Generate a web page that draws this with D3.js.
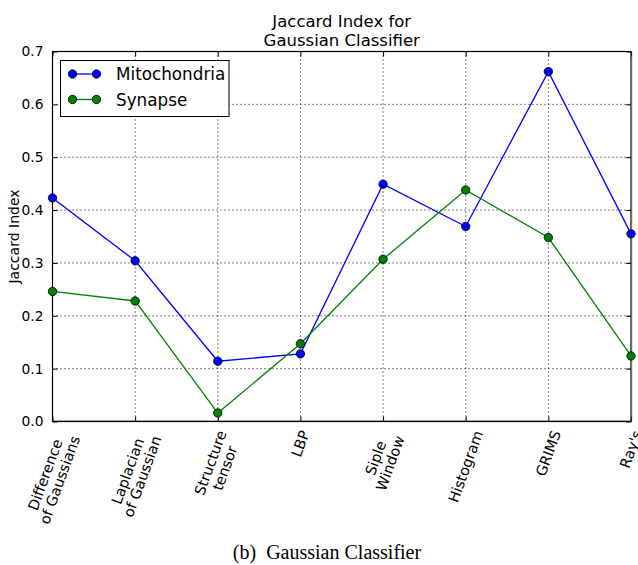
<!DOCTYPE html>
<html>
<head>
<meta charset="utf-8">
<script src="https://cdn.jsdelivr.net/npm/d3@7"></script>
<style>
  html, body { margin: 0; padding: 0; background: #fff; }
  svg { display: block; }
  text { font-family: "DejaVu Sans", sans-serif; fill: #000; }
</style>
</head>
<body>
<svg id="chart" width="638" height="565"></svg>
<script>
// Feature extractors evaluated with the Gaussian classifier
const categories = [
  "Difference\nof Gaussians",
  "Laplacian\nof Gaussian",
  "Structure\ntensor",
  "LBP",
  "Siple\nWindow",
  "Histogram",
  "GRIMS",
  "Ray's"
];
const mitochondria = [0.423, 0.304, 0.114, 0.128, 0.449, 0.369, 0.662, 0.355];
const synapse      = [0.246, 0.228, 0.016, 0.147, 0.307, 0.438, 0.348, 0.124];
const yTicks = [0.0, 0.1, 0.2, 0.3, 0.4, 0.5, 0.6, 0.7];

const series = [
  { name: "Mitochondria", values: mitochondria, color: "#0000ff" },
  { name: "Synapse",      values: synapse,      color: "#008000" }
];

const svg = d3.select("#chart");
const plot = { left: 52.5, right: 631, top: 51.5, bottom: 421.5 };

const x = d3.scalePoint()
  .domain(d3.range(categories.length))
  .range([plot.left, plot.right]);
const y = d3.scaleLinear()
  .domain([0, 0.7])
  .range([plot.bottom, plot.top]);

// Dotted grid
const grid = svg.append("g");
grid.selectAll("line.gx")
  .data(d3.range(categories.length).slice(1, -1))
  .join("line")
  .attr("x1", d => x(d)).attr("x2", d => x(d))
  .attr("y1", plot.top).attr("y2", plot.bottom)
  .attr("stroke", "#000").attr("stroke-width", 1)
  .attr("stroke-dasharray", "1,3");
grid.selectAll("line.gy")
  .data(yTicks.slice(1, -1))
  .join("line")
  .attr("x1", plot.left).attr("x2", plot.right)
  .attr("y1", d => y(d)).attr("y2", d => y(d))
  .attr("stroke", "#000").attr("stroke-width", 1)
  .attr("stroke-dasharray", "1,3");

// Axes with inward ticks on all four sides
const tickLen = 5;
const axisLeft = svg.append("g").attr("transform", `translate(${plot.left},0)`)
  .call(d3.axisLeft(y).tickValues(yTicks).tickFormat(d3.format(".1f"))
    .tickSizeInner(-tickLen).tickSizeOuter(0).tickPadding(tickLen + 4));
const axisRight = svg.append("g").attr("transform", `translate(${plot.right},0)`)
  .call(d3.axisRight(y).tickValues(yTicks).tickFormat("")
    .tickSizeInner(-tickLen).tickSizeOuter(0));
const axisBottom = svg.append("g").attr("transform", `translate(0,${plot.bottom})`)
  .call(d3.axisBottom(x).tickFormat("").tickSizeInner(-tickLen).tickSizeOuter(0));
const axisTop = svg.append("g").attr("transform", `translate(0,${plot.top})`)
  .call(d3.axisTop(x).tickFormat("").tickSizeInner(-tickLen).tickSizeOuter(0));

[axisLeft, axisRight, axisBottom, axisTop].forEach(a => {
  a.select(".domain").remove();
  a.selectAll(".tick line").attr("stroke", "#000").attr("stroke-width", 1);
});
axisLeft.selectAll(".tick text")
  .style("font-family", "DejaVu Sans").style("font-size", "13.8px").attr("fill", "#000");

// Frame
svg.append("rect")
  .attr("x", plot.left).attr("y", plot.top)
  .attr("width", plot.right - plot.left).attr("height", plot.bottom - plot.top)
  .attr("fill", "none").attr("stroke", "#000").attr("stroke-width", 1.2);
// Heavier, textured bottom and right edges
svg.append("line")
  .attr("x1", plot.left).attr("x2", plot.right)
  .attr("y1", plot.bottom - 1).attr("y2", plot.bottom - 1)
  .attr("stroke", "#666").attr("stroke-width", 1).attr("stroke-dasharray", "1,1");
svg.append("line")
  .attr("x1", plot.right + 1).attr("x2", plot.right + 1)
  .attr("y1", plot.top).attr("y2", plot.bottom)
  .attr("stroke", "#888").attr("stroke-width", 1).attr("stroke-dasharray", "1,1");

// Rotated category labels, bounding box centred under each tick
const angle = 70, rad = angle * Math.PI / 180, lh = 15.5;
const labels = svg.append("g");
categories.forEach((c, i) => {
  const lines = c.split("\n");
  const g = labels.append("g");
  const t = g.append("text")
    .attr("text-anchor", "middle")
    .attr("dominant-baseline", "central")
    .style("font-size", "14.5px");
  lines.forEach((ln, j) => {
    t.append("tspan").attr("x", 0)
      .attr("y", (j - (lines.length - 1) / 2) * lh)
      .text(ln);
  });
  const w = d3.max(t.selectAll("tspan").nodes(), n => n.getComputedTextLength());
  const h = lines.length * lh;
  const bboxH = w * Math.sin(rad) + h * Math.cos(rad);
  g.attr("transform", `translate(${x(i)},${plot.bottom + 7 + bboxH / 2}) rotate(${-angle})`);
});

// Series lines and markers
const line = d3.line().x((d, i) => x(i)).y(d => y(d));
series.forEach(s => {
  svg.append("path")
    .datum(s.values)
    .attr("d", line)
    .attr("fill", "none")
    .attr("stroke", s.color)
    .attr("stroke-width", 1.3);
  svg.append("g").selectAll("circle")
    .data(s.values)
    .join("circle")
    .attr("cx", (d, i) => x(i))
    .attr("cy", d => y(d))
    .attr("r", 4.2)
    .attr("fill", s.color)
    .attr("stroke", "#000")
    .attr("stroke-width", 0.8);
});

// Legend
const legend = svg.append("g");
legend.append("rect")
  .attr("x", 60.5).attr("y", 60.5).attr("width", 168.5).attr("height", 56)
  .attr("fill", "#fff").attr("stroke", "#000").attr("stroke-width", 1);
series.forEach((s, i) => {
  const ly = 74 + i * 25.5;
  legend.append("line")
    .attr("x1", 72.5).attr("x2", 96.5).attr("y1", ly).attr("y2", ly)
    .attr("stroke", s.color).attr("stroke-width", 1.3);
  [72.5, 96.5].forEach(cx => legend.append("circle")
    .attr("cx", cx).attr("cy", ly).attr("r", 4.2)
    .attr("fill", s.color).attr("stroke", "#000").attr("stroke-width", 0.8));
  legend.append("text")
    .attr("x", 116).attr("y", ly + 6)
    .style("font-size", "16.8px")
    .text(s.name);
});

// Title and axis label
const cx = (plot.left + plot.right) / 2;
svg.append("text").attr("x", cx).attr("y", 26.5)
  .attr("text-anchor", "middle").style("font-size", "16.5px").text("Jaccard Index for");
svg.append("text").attr("x", cx).attr("y", 46)
  .attr("text-anchor", "middle").style("font-size", "16.5px").text("Gaussian Classifier");
svg.append("text")
  .attr("transform", `translate(19,${(plot.top + plot.bottom) / 2}) rotate(-90)`)
  .attr("text-anchor", "middle").style("font-size", "14px").text("Jaccard Index");

// Caption
svg.append("text").attr("x", 327).attr("y", 559)
  .attr("text-anchor", "middle")
  .style("font-family", "'Liberation Serif', 'Times New Roman', serif")
  .style("font-size", "20px")
  .text("(b)\u2002Gaussian Classifier");
</script>
</body>
</html>
